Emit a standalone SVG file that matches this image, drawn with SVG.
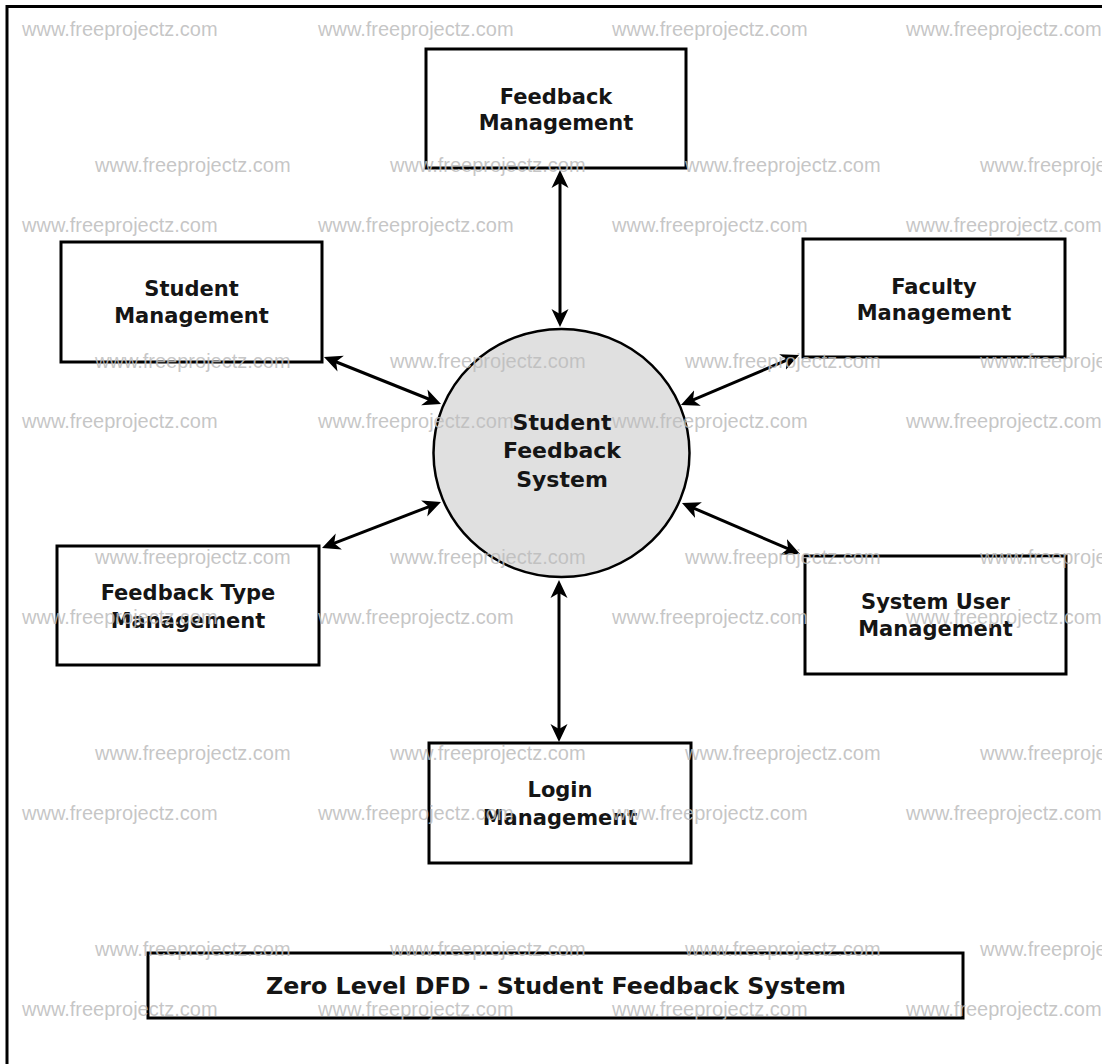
<svg xmlns="http://www.w3.org/2000/svg" width="1102" height="1064" viewBox="0 0 1102 1064">
<style>
.box{fill:#fff;stroke:#000;stroke-width:3}
.lbl{font-family:"DejaVu Sans","Noto Sans",sans-serif;font-weight:bold;font-size:21px;fill:#151515;text-anchor:middle}
.clbl{font-size:22px}
.conn{stroke:#000;stroke-width:3;fill:none;marker-start:url(#ah);marker-end:url(#ah)}
.wm{font-family:"Liberation Sans",Arial,sans-serif;font-size:20px;fill:#bcbcbc;fill-opacity:0.85}
</style>
<defs>
<marker id="ah" markerUnits="userSpaceOnUse" viewBox="0 -10 20 20" refX="6" refY="0" markerWidth="20" markerHeight="20" orient="auto-start-reverse">
<path d="M18,0 L0,-8.5 L5,0 L0,8.5 Z" fill="#000"/>
</marker>
</defs>
<rect width="1102" height="1064" fill="#fff"/>
<path d="M7,1064 V6.5 H1102" fill="none" stroke="#000" stroke-width="3"/>

<g id="connectors">
<line class="conn" x1="560" y1="182" x2="560" y2="315"/>
<line class="conn" x1="335.1" y1="361.5" x2="429.9" y2="399.5"/>
<line class="conn" x1="333.2" y1="543.7" x2="429.8" y2="506.3"/>
<line class="conn" x1="788" y1="359.7" x2="692" y2="400.3"/>
<line class="conn" x1="789" y1="549.2" x2="693" y2="507.8"/>
<line class="conn" x1="559" y1="592" x2="559" y2="730"/>
</g>

<g id="process">
<ellipse cx="561.5" cy="453" rx="128" ry="124" fill="#e0e0e0" stroke="#000" stroke-width="2.5"/>
<text class="lbl clbl" x="562" y="430">Student</text>
<text class="lbl clbl" x="562" y="458">Feedback</text>
<text class="lbl clbl" x="562" y="487">System</text>
</g>

<g id="feedback-management">
<rect class="box" x="426" y="49" width="260" height="119"/>
<text class="lbl" x="556" y="104">Feedback</text>
<text class="lbl" x="556" y="130">Management</text>
</g>

<g id="student-management">
<rect class="box" x="61" y="242" width="261" height="120"/>
<text class="lbl" x="191.5" y="296">Student</text>
<text class="lbl" x="191.5" y="323">Management</text>
</g>

<g id="faculty-management">
<rect class="box" x="803" y="239" width="262" height="118"/>
<text class="lbl" x="934" y="294">Faculty</text>
<text class="lbl" x="934" y="320">Management</text>
</g>

<g id="feedback-type-management">
<rect class="box" x="57" y="546" width="262" height="119"/>
<text class="lbl" x="188" y="600">Feedback Type</text>
<text class="lbl" x="188" y="628">Management</text>
</g>

<g id="system-user-management">
<rect class="box" x="805" y="556" width="261" height="118"/>
<text class="lbl" x="935.5" y="609">System User</text>
<text class="lbl" x="935.5" y="636">Management</text>
</g>

<g id="login-management">
<rect class="box" x="429" y="743" width="262" height="120"/>
<text class="lbl" x="560" y="797">Login</text>
<text class="lbl" x="560" y="825">Management</text>
</g>

<g id="title">
<rect class="box" x="148" y="953" width="815" height="65"/>
<text class="lbl" x="556" y="994" style="font-size:23px" textLength="580" lengthAdjust="spacingAndGlyphs">Zero Level DFD - Student Feedback System</text>
</g>

<g id="watermarks">
<text class="wm" x="22" y="36">www.freeprojectz.com</text>
<text class="wm" x="318" y="36">www.freeprojectz.com</text>
<text class="wm" x="612" y="36">www.freeprojectz.com</text>
<text class="wm" x="906" y="36">www.freeprojectz.com</text>
<text class="wm" x="95" y="172">www.freeprojectz.com</text>
<text class="wm" x="390" y="172">www.freeprojectz.com</text>
<text class="wm" x="685" y="172">www.freeprojectz.com</text>
<text class="wm" x="980" y="172">www.freeprojectz.com</text>
<text class="wm" x="22" y="232">www.freeprojectz.com</text>
<text class="wm" x="318" y="232">www.freeprojectz.com</text>
<text class="wm" x="612" y="232">www.freeprojectz.com</text>
<text class="wm" x="906" y="232">www.freeprojectz.com</text>
<text class="wm" x="95" y="368">www.freeprojectz.com</text>
<text class="wm" x="390" y="368">www.freeprojectz.com</text>
<text class="wm" x="685" y="368">www.freeprojectz.com</text>
<text class="wm" x="980" y="368">www.freeprojectz.com</text>
<text class="wm" x="22" y="428">www.freeprojectz.com</text>
<text class="wm" x="318" y="428">www.freeprojectz.com</text>
<text class="wm" x="612" y="428">www.freeprojectz.com</text>
<text class="wm" x="906" y="428">www.freeprojectz.com</text>
<text class="wm" x="95" y="564">www.freeprojectz.com</text>
<text class="wm" x="390" y="564">www.freeprojectz.com</text>
<text class="wm" x="685" y="564">www.freeprojectz.com</text>
<text class="wm" x="980" y="564">www.freeprojectz.com</text>
<text class="wm" x="22" y="624">www.freeprojectz.com</text>
<text class="wm" x="318" y="624">www.freeprojectz.com</text>
<text class="wm" x="612" y="624">www.freeprojectz.com</text>
<text class="wm" x="906" y="624">www.freeprojectz.com</text>
<text class="wm" x="95" y="760">www.freeprojectz.com</text>
<text class="wm" x="390" y="760">www.freeprojectz.com</text>
<text class="wm" x="685" y="760">www.freeprojectz.com</text>
<text class="wm" x="980" y="760">www.freeprojectz.com</text>
<text class="wm" x="22" y="820">www.freeprojectz.com</text>
<text class="wm" x="318" y="820">www.freeprojectz.com</text>
<text class="wm" x="612" y="820">www.freeprojectz.com</text>
<text class="wm" x="906" y="820">www.freeprojectz.com</text>
<text class="wm" x="95" y="956">www.freeprojectz.com</text>
<text class="wm" x="390" y="956">www.freeprojectz.com</text>
<text class="wm" x="685" y="956">www.freeprojectz.com</text>
<text class="wm" x="980" y="956">www.freeprojectz.com</text>
<text class="wm" x="22" y="1016">www.freeprojectz.com</text>
<text class="wm" x="318" y="1016">www.freeprojectz.com</text>
<text class="wm" x="612" y="1016">www.freeprojectz.com</text>
<text class="wm" x="906" y="1016">www.freeprojectz.com</text>
</g>
</svg>
